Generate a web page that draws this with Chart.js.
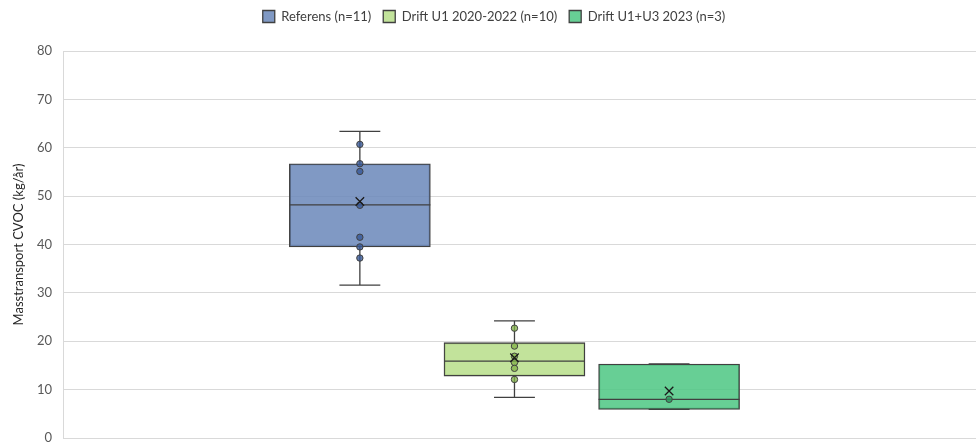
<!DOCTYPE html>
<html>
<head>
<meta charset="utf-8">
<script src="https://cdn.jsdelivr.net/npm/chart.js@4.4.1/dist/chart.umd.min.js"></script>
<style>
  html, body { margin: 0; padding: 0; background: #ffffff; }
  #wrap { width: 978px; height: 443px; position: relative; }
</style>
</head>
<body>
<div id="wrap"><canvas id="c"></canvas></div>
<script>
// ---- Data ----
const seriesNames = ['Referens (n=11)', 'Drift U1 2020-2022 (n=10)', 'Drift U1+U3 2023 (n=3)'];
const seriesPos = [1, 2, 3];
const whiskerMin = [31.6, 8.4, 5.9];
const q1Values = [39.5, 12.8, 5.9];
const medianValues = [48.2, 15.9, 8.0];
const q3Values = [56.7, 19.7, 15.3];
const whiskerMax = [63.4, 24.2, 15.3];
const meanValues = [48.9, 16.6, 9.7];
const referensPoints = [60.7, 56.7, 55.1, 48.1, 41.5, 39.5, 37.2];
const driftU1Points = [22.7, 19.0, 16.9, 15.6, 14.4, 12.1];
const driftU3Points = [8.0];
const yTicks = [0, 10, 20, 30, 40, 50, 60, 70, 80];

// ---- Styles ----
const boxFill = ['rgba(106,135,186,0.85)', 'rgba(183,222,137,0.85)', 'rgba(76,199,130,0.85)'];
const pointFill = ['rgba(55,88,150,0.8)', 'rgba(128,178,70,0.75)', 'rgba(40,150,90,0.8)'];
const edge = '#404040';
const allPoints = [referensPoints, driftU1Points, driftU3Points];

const datasets = [];
seriesNames.forEach((name, i) => {
  datasets.push({
    type: 'bar',
    label: name,
    data: [{ x: seriesPos[i], y: [q1Values[i], q3Values[i]] }],
    backgroundColor: boxFill[i],
    borderColor: edge,
    borderWidth: 1.3,
    borderSkipped: false,
    barThickness: 141,
    grouped: false,
    order: 5
  });
});
allPoints.forEach((pts, i) => {
  datasets.push({
    type: 'scatter',
    label: '_pts' + i,
    data: pts.map(v => ({ x: seriesPos[i], y: v })),
    backgroundColor: pointFill[i],
    borderColor: edge,
    borderWidth: 1,
    pointRadius: 3.2,
    order: 2
  });
});
datasets.push({
  type: 'scatter',
  label: '_mean',
  data: meanValues.map((v, i) => ({ x: seriesPos[i], y: v })),
  pointStyle: 'crossRot',
  pointRadius: 6,
  borderColor: '#1a1a1a',
  borderWidth: 1.3,
  backgroundColor: '#1a1a1a',
  order: 1
});

const boxPlugin = {
  id: 'boxWhiskers',
  afterDatasetDraw(chart, args) {
    const i = args.index;
    if (i > 2) return;
    const el = args.meta.data[0];
    if (!el) return;
    const ys = chart.scales.y;
    const ctx = chart.ctx;
    const cx = el.x, w = el.width;
    const cap = w * 0.29;
    const yMed = ys.getPixelForValue(medianValues[i]);
    const yQ1 = ys.getPixelForValue(q1Values[i]);
    const yQ3 = ys.getPixelForValue(q3Values[i]);
    const yMin = ys.getPixelForValue(whiskerMin[i]);
    const yMax = ys.getPixelForValue(whiskerMax[i]);
    ctx.save();
    ctx.strokeStyle = edge;
    ctx.lineWidth = 1.3;
    ctx.beginPath();
    ctx.moveTo(cx - w / 2, yMed); ctx.lineTo(cx + w / 2, yMed);
    if (yMax < yQ3 - 0.5) { ctx.moveTo(cx, yQ3); ctx.lineTo(cx, yMax); }
    if (yMin > yQ1 + 0.5) { ctx.moveTo(cx, yQ1); ctx.lineTo(cx, yMin); }
    ctx.moveTo(cx - cap / 2, yMax); ctx.lineTo(cx + cap / 2, yMax);
    ctx.moveTo(cx - cap / 2, yMin); ctx.lineTo(cx + cap / 2, yMin);
    ctx.stroke();
    ctx.restore();
  }
};

const legendSpacer = {
  id: 'legendSpacer',
  beforeInit(chart) {
    const origFit = chart.legend.fit;
    chart.legend.fit = function () {
      origFit.bind(chart.legend)();
      this.height += 18;
    };
  },
  afterLayout(chart) {
    if (chart.legend) { chart.legend.left += 6; chart.legend.right += 6; }
  }
};

new Chart(document.getElementById('c'), {
  type: 'bar',
  data: { datasets },
  plugins: [boxPlugin, legendSpacer],
  options: {
    responsive: true,
    maintainAspectRatio: false,
    animation: false,
    layout: { autoPadding: false, padding: { top: -2, right: 2, bottom: 5, left: 0 } },
    plugins: {
      legend: {
        position: 'top',
        labels: {
          font: { family: 'Lato', size: 13 },
          color: '#404040',
          boxWidth: 12,
          boxHeight: 12,
          padding: 12,
          filter: (item) => !item.text.startsWith('_')
        }
      },
      tooltip: { enabled: false }
    },
    scales: {
      x: {
        type: 'linear',
        display: false,
        offset: false,
        min: -0.92,
        max: 4.985
      },
      y: {
        min: 0,
        max: 80,
        afterFit(scale) { scale.width = 63; scale.paddingTop = 0; scale.paddingBottom = 0; },
        afterBuildTicks(scale) { scale.ticks = yTicks.map(v => ({ value: v })); },
        ticks: {
          font: { family: 'Lato', size: 13 },
          color: '#595959',
          padding: 11
        },
        grid: { color: '#d9d9d9', lineWidth: 1, drawTicks: false },
        border: { display: true, color: '#d9d9d9' },
        title: {
          display: true,
          text: 'Masstransport CVOC (kg/år)',
          font: { family: 'Lato', size: 13 },
          color: '#262626',
          padding: { top: 11, bottom: 0 }
        }
      }
    }
  }
});
</script>
</body>
</html>
